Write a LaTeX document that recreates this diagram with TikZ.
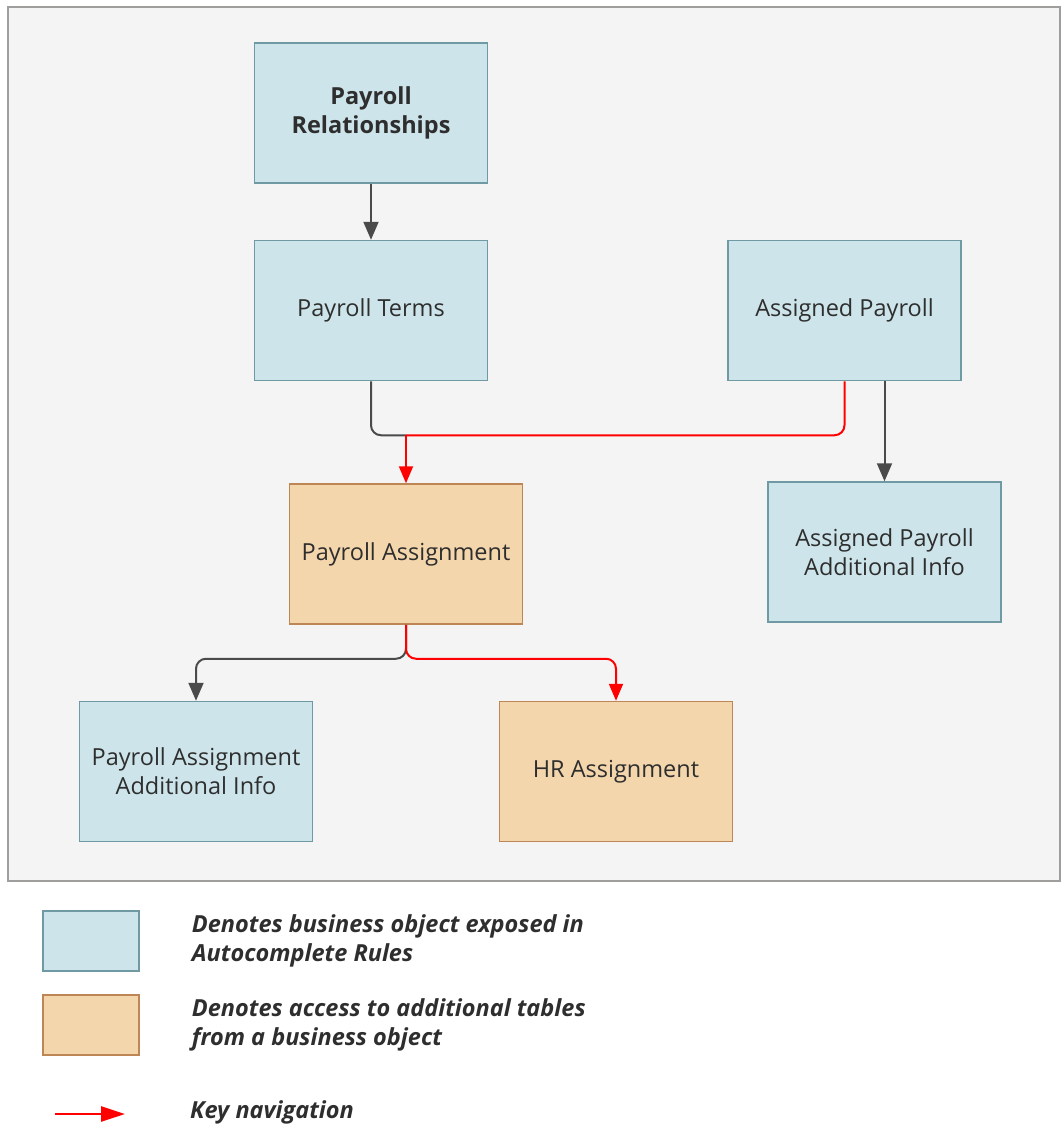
\documentclass[tikz,border=0pt]{standalone}
\usepackage{fontspec}
\setmainfont{Open Sans}
\usepackage{tikz}
\usetikzlibrary{positioning, arrows.meta}
\definecolor{objblue}{HTML}{CDE5EA}
\definecolor{objedge}{HTML}{6F9AA4}
\definecolor{extrafill}{HTML}{F4D6AC}
\definecolor{extraedge}{HTML}{BE8654}
\definecolor{panel}{HTML}{F4F4F4}
\definecolor{paneledge}{HTML}{A09E9C}
\definecolor{linkgray}{HTML}{4A4A4A}
\definecolor{ink}{HTML}{2E2E2E}
\newcommand{\boxfont}{\fontsize{23.5}{29}\selectfont}

\begin{document}
\begin{tikzpicture}[
    x=1pt, y=-1pt,
    obj/.style={
        draw=objedge,
        fill=objblue,
        line width=1.5pt,
        align=center,
        text=ink,
        font=\boxfont,
        inner sep=0pt,
        minimum width=233pt,
        minimum height=140pt
    },
    extra/.style={obj, draw=extraedge, fill=extrafill},
    swatch/.style={obj, minimum width=96pt, minimum height=60pt},
    note/.style={anchor=west, align=left, text=ink, inner sep=0pt,
        font=\fontsize{23.5}{29}\selectfont\bfseries\itshape},
    link/.style={line width=2pt, draw=linkgray},
    arrow/.style={link, -{Triangle[length=18pt,width=15pt]}},
    key/.style={line width=2pt, draw=red},
    keyarrow/.style={key, -{Triangle[length=17pt,width=14pt]}}
]

\useasboundingbox (0,0) rectangle (1061,1130);
\fill[white] (0,0) rectangle (1061,1130);
\draw[fill=panel, draw=paneledge, line width=2pt] (8,7) rectangle (1060,881);

%  Business objects 
\node[obj, font=\boxfont\bfseries] (pr) at (371,113) {Payroll\\Relationships};
\node[obj, below=56pt of pr] (pt) {Payroll Terms};
\node[obj, right=239pt of pt] (ap) {Assigned Payroll};
\node[extra, below=102pt of pt, xshift=35pt] (pa) {Payroll Assignment};
\node[obj, below=100pt of ap, xshift=40pt] (apai) {Assigned Payroll\\Additional Info};
\node[obj, below=76pt of pa, xshift=-210pt] (paai) {Payroll Assignment\\Additional Info};
\node[extra, below=76pt of pa, xshift=210pt] (hr) {HR Assignment};

\coordinate[above=48pt of pa] (merge);
\coordinate[below=34pt of pa] (split);

%  Connectors 
\draw[arrow] (pr) -- (pt);
\draw[link, rounded corners=10pt] (pt) |- (merge);
\draw[key, rounded corners=10pt] (ap.south) |- (merge);
\draw[keyarrow] (merge) -- (pa);
\draw[arrow] (ap.south -| apai.north) -- (apai);
\draw[arrow, rounded corners=10pt] (pa) -- (split) -| (paai);
\draw[keyarrow, rounded corners=10pt] (pa) -- (split) -| (hr);

%  Legend 
\node[swatch] (bluekey) at (91,941) {};
\node[note, right=52pt of bluekey] (bluenote) {Denotes business object exposed in\\Autocomplete Rules};
\node[swatch, draw=extraedge, fill=extrafill] (orangekey) at (91,1025) {};
\node[note, right=52pt of orangekey] (orangenote) {Denotes access to additional tables\\from a business object};
\coordinate (keyfrom) at (55,1114);
\coordinate (keyto) at (125,1114);
\draw[key, line width=2.5pt, -{Triangle[length=24pt,width=15pt]}] (keyfrom) -- (keyto);
\node[note] (keynote) at (190,1112) {Key navigation};

\end{tikzpicture}
\end{document}
